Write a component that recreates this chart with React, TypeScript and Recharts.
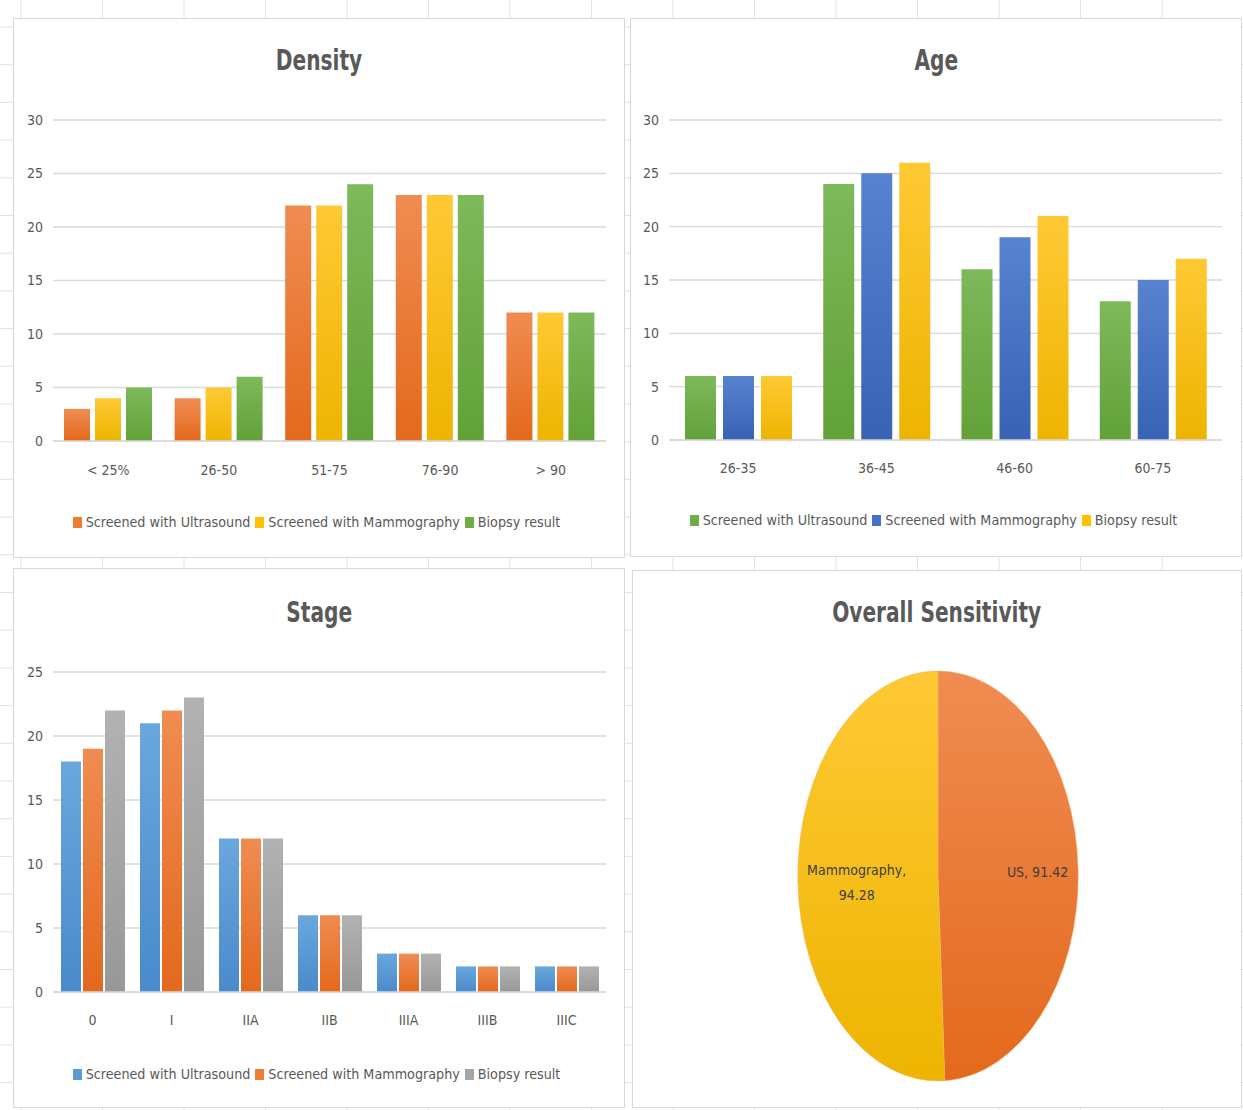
import React from 'react';
import { BarChart, Bar, XAxis, YAxis, CartesianGrid, Legend, PieChart, Pie, Cell } from 'recharts';

// ---------- data ----------
const seriesNames = ['Screened with Ultrasound', 'Screened with Mammography', 'Biopsy result'];

const densityCategories = ['< 25%', '26-50', '51-75', '76-90', '> 90'];
const densityUltrasound = [3, 4, 22, 23, 12];
const densityMammography = [4, 5, 22, 23, 12];
const densityBiopsy = [5, 6, 24, 23, 12];
const densityTicks = [0, 5, 10, 15, 20, 25, 30];

const ageCategories = ['26-35', '36-45', '46-60', '60-75'];
const ageUltrasound = [6, 24, 16, 13];
const ageMammography = [6, 25, 19, 15];
const ageBiopsy = [6, 26, 21, 17];
const ageTicks = [0, 5, 10, 15, 20, 25, 30];

const stageCategories = ['0', 'I', 'IIA', 'IIB', 'IIIA', 'IIIB', 'IIIC'];
const stageUltrasound = [18, 21, 12, 6, 3, 2, 2];
const stageMammography = [19, 22, 12, 6, 3, 2, 2];
const stageBiopsy = [22, 23, 12, 6, 3, 2, 2];
const stageTicks = [0, 5, 10, 15, 20, 25];

const sensitivityNames = ['US', 'Mammography'];
const sensitivityValues = [91.42, 94.28];

// ---------- build tables ----------
const build = (cats: string[], a: number[], b: number[], c: number[]) =>
  cats.map((cat, i) => ({ cat, s0: a[i], s1: b[i], s2: c[i] }));

const densityData = build(densityCategories, densityUltrasound, densityMammography, densityBiopsy);
const ageData = build(ageCategories, ageUltrasound, ageMammography, ageBiopsy);
const stageData = build(stageCategories, stageUltrasound, stageMammography, stageBiopsy);
const pieData = sensitivityNames.map((name, i) => ({ name, value: sensitivityValues[i] }));

// ---------- styles ----------
const FONT = '"Liberation Sans Narrow", "DejaVu Sans Condensed", "Liberation Sans", sans-serif';
const TEXT = '#595959';
const GRID = '#d9d9d9';

const COLORS: Record<string, { solid: string; top: string; bottom: string }> = {
  orange: { solid: '#ED7D31', top: '#F08C52', bottom: '#E3691C' },
  yellow: { solid: '#FFC000', top: '#FFC935', bottom: '#EDB400' },
  green: { solid: '#70AD47', top: '#7EB95A', bottom: '#62A138' },
  blue: { solid: '#4472C4', top: '#5883D0', bottom: '#3862B4' },
  lblue: { solid: '#5B9BD5', top: '#6AA7DD', bottom: '#4A8ACB' },
  gray: { solid: '#A5A5A5', top: '#B2B2B2', bottom: '#989898' },
};

const Gradients = ({ prefix }: { prefix: string }) => (
  <defs>
    {Object.keys(COLORS).map((k) => (
      <linearGradient key={k} id={`${prefix}-${k}`} x1="0" y1="0" x2="0" y2="1">
        <stop offset="0%" stopColor={COLORS[k].top} />
        <stop offset="100%" stopColor={COLORS[k].bottom} />
      </linearGradient>
    ))}
  </defs>
);

const makeLegend = (colors: string[]) => () => (
  <div
    style={{
      display: 'flex',
      justifyContent: 'center',
      alignItems: 'center',
      fontFamily: FONT,
      fontSize: 14.2,
      color: TEXT,
      whiteSpace: 'nowrap',
    }}
  >
    {seriesNames.map((n, i) => (
      <span key={n} style={{ display: 'inline-flex', alignItems: 'center', marginRight: 5 }}>
        <span
          style={{ width: 9, height: 11, background: COLORS[colors[i]].solid, display: 'inline-block', marginRight: 4 }}
        />
        {n}
      </span>
    ))}
  </div>
);

type PanelProps = {
  id: string;
  left: number;
  top: number;
  width: number;
  height: number;
  title: string;
  titleTop: number;
  data: any[];
  colors: string[];
  ticks: number[];
  marginTop: number;
  marginRight: number;
  yWidth: number;
  xAxisHeight: number;
  marginBottom: number;
  xTickMargin: number;
  barSize: number;
  barGap: number;
  legendTop: number;
};

const Panel = ({ children, left, top, width, height }: any) => (
  <div
    style={{
      position: 'absolute',
      left,
      top,
      width,
      height,
      background: '#fff',
      border: '1px solid #d9d9d9',
      boxSizing: 'border-box',
    }}
  >
    {children}
  </div>
);

const Title = ({ text, top }: { text: string; top: number }) => (
  <div
    style={{
      position: 'absolute',
      left: 0,
      right: 0,
      top,
      textAlign: 'center',
      fontFamily: FONT,
      fontWeight: 'bold',
      fontSize: 28,
      color: TEXT,
      lineHeight: '32px',
    }}
  >
    <span style={{ display: 'inline-block', transform: 'scaleX(0.8)', transformOrigin: '50% 50%' }}>{text}</span>
  </div>
);

const BarPanel = (p: PanelProps) => (
  <Panel left={p.left} top={p.top} width={p.width} height={p.height}>
    <Title text={p.title} top={p.titleTop} />
    <div style={{ position: 'absolute', left: -1, top: -1 }}>
      <BarChart
        width={p.width}
        height={p.height}
        data={p.data}
        margin={{ top: p.marginTop, right: p.marginRight, left: 0, bottom: p.marginBottom }}
        barGap={p.barGap}
      >
        <Gradients prefix={p.id} />
        <CartesianGrid vertical={false} stroke={GRID} strokeWidth={1.3} />
        <XAxis
          dataKey="cat"
          height={p.xAxisHeight}
          tickLine={false}
          tickSize={0}
          tickMargin={p.xTickMargin}
          axisLine={{ stroke: GRID, strokeWidth: 1.3 }}
          tick={{ fill: TEXT, fontSize: 14, fontFamily: FONT }}
          interval={0}
        />
        <YAxis
          width={p.yWidth}
          domain={[0, p.ticks[p.ticks.length - 1]]}
          ticks={p.ticks}
          tickLine={false}
          axisLine={false}
          tickSize={0}
          tickMargin={10}
          tick={{ fill: TEXT, fontSize: 14, fontFamily: FONT }}
        />
        <Legend
          layout="horizontal"
          verticalAlign="middle"
          align="center"
          wrapperStyle={{ top: p.legendTop, left: 0, width: p.width }}
          content={makeLegend(p.colors)}
        />
        {['s0', 's1', 's2'].map((k, i) => (
          <Bar
            key={k}
            dataKey={k}
            name={seriesNames[i]}
            fill={`url(#${p.id}-${p.colors[i]})`}
            barSize={p.barSize}
            isAnimationActive={false}
          />
        ))}
      </BarChart>
    </div>
  </Panel>
);

// ---------- pie ----------
const SX = 0.684;
const PIE_SIZE = 412;

const renderPieLabel = (props: any) => {
  const { cx, cy, midAngle, outerRadius, index } = props;
  const RAD = Math.PI / 180;
  const r = outerRadius * (index === 0 ? 0.71 : 0.58);
  const x = cx + r * Math.cos(-midAngle * RAD);
  const y = cy + r * Math.sin(-midAngle * RAD);
  const d = pieData[index];
  const common = {
    textAnchor: 'middle' as const,
    fill: '#404040',
    fontFamily: FONT,
    fontSize: 14,
    transform: `translate(${x},${y}) scale(${1 / SX},1)`,
  };
  if (index === 1) {
    return (
      <text {...common} x={0} y={0}>
        <tspan x={0} dy="-0.3em">{`${d.name},`}</tspan>
        <tspan x={0} dy="1.8em">{`${d.value}`}</tspan>
      </text>
    );
  }
  return (
    <text {...common} x={0} y={0} dy="0.35em">
      {`${d.name}, ${d.value}`}
    </text>
  );
};

// ---------- background spreadsheet grid ----------
const SheetGrid = () => {
  const cols: number[] = [];
  for (let x = 21; x < 1243; x += 81.5) cols.push(x);
  const rows: number[] = [];
  for (let y = 27; y < 1110; y += 37.7) rows.push(y);
  return (
    <svg width={1243} height={1110} style={{ position: 'absolute', left: 0, top: 0 }}>
      {cols.map((x) => (
        <line key={`c${x}`} x1={x} x2={x} y1={0} y2={1110} stroke="#e2e2e2" strokeWidth={1} />
      ))}
      {rows.map((y) => (
        <line key={`r${y}`} x1={0} x2={1243} y1={y} y2={y} stroke="#e2e2e2" strokeWidth={1} />
      ))}
    </svg>
  );
};

export default function App() {
  return (
    <div style={{ position: 'absolute', left: 0, top: 0, width: 1243, height: 1110, background: '#fff', overflow: 'hidden' }}>
      <SheetGrid />

      <BarPanel
        id="den"
        left={13}
        top={18}
        width={612}
        height={540}
        title="Density"
        titleTop={26}
        data={densityData}
        colors={['orange', 'yellow', 'green']}
        ticks={densityTicks}
        marginTop={102}
        marginRight={19}
        yWidth={40}
        xAxisHeight={30}
        marginBottom={87}
        xTickMargin={24}
        barSize={26}
        barGap={5}
        legendTop={496}
      />

      <BarPanel
        id="age"
        left={630}
        top={18}
        width={612}
        height={539}
        title="Age"
        titleTop={26}
        data={ageData}
        colors={['green', 'blue', 'yellow']}
        ticks={ageTicks}
        marginTop={102}
        marginRight={20}
        yWidth={39}
        xAxisHeight={30}
        marginBottom={87}
        xTickMargin={23}
        barSize={31}
        barGap={7}
        legendTop={494}
      />

      <BarPanel
        id="stg"
        left={13}
        top={568}
        width={612}
        height={540}
        title="Stage"
        titleTop={28}
        data={stageData}
        colors={['lblue', 'orange', 'gray']}
        ticks={stageTicks}
        marginTop={104}
        marginRight={19}
        yWidth={40}
        xAxisHeight={30}
        marginBottom={86}
        xTickMargin={23}
        barSize={20}
        barGap={2}
        legendTop={498}
      />

      <Panel left={632} top={570} width={610} height={538}>
        <Title text="Overall Sensitivity" top={26} />
      </Panel>
      <div
        style={{
          position: 'absolute',
          left: 938 - PIE_SIZE / 2,
          top: 670,
          width: PIE_SIZE,
          height: PIE_SIZE,
          transform: `scaleX(${SX})`,
          transformOrigin: '50% 50%',
        }}
      >
        <PieChart width={PIE_SIZE} height={PIE_SIZE} margin={{ top: 0, right: 0, bottom: 0, left: 0 }}>
          <Gradients prefix="pie" />
          <Pie
            data={pieData}
            dataKey="value"
            nameKey="name"
            cx={PIE_SIZE / 2}
            cy={PIE_SIZE / 2}
            outerRadius={205}
            startAngle={90}
            endAngle={-270}
            stroke="#f2b36b"
            strokeWidth={0.6}
            label={renderPieLabel}
            labelLine={false}
            isAnimationActive={false}
          >
            <Cell fill="url(#pie-orange)" />
            <Cell fill="url(#pie-yellow)" />
          </Pie>
        </PieChart>
      </div>
    </div>
  );
}
